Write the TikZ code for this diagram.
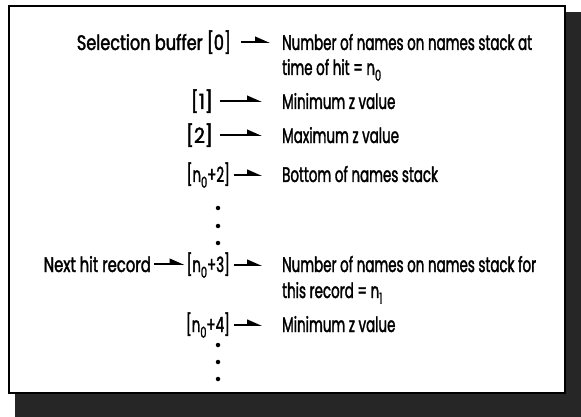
\documentclass[tikz,border=0pt]{standalone}
\usepackage{fontspec}
\setmainfont{Poppins}[FakeStretch=0.64, FakeBold=1.6]
\usetikzlibrary{arrows.meta}
\newcommand\lowidx[1]{\raisebox{-0.5ex}{\scalebox{0.72}{#1}}}
\newcommand\widelbl[2][1.2]{\scalebox{#1}[1]{#2}}

\begin{document}
\begin{tikzpicture}[x=1pt,y=-1pt,
  lbl/.style={inner sep=0pt, font=\fontsize{21}{25}\selectfont},
  ptr/.style={line width=1.6pt, -{Triangle[harpoon,length=13pt,width=11pt]},
              shorten <=4pt, shorten >=20pt},
  ptrshort/.style={ptr, shorten <=3pt, shorten >=2pt},
  vdot/.style={circle, fill, inner sep=0pt, minimum size=4.5pt}]
\useasboundingbox (0,0) rectangle (581,417);

% drop shadow and frame
\fill[black!85] (566,12) rectangle (581,417);
\fill[black!85] (15,394) rectangle (581,417);
\draw[line width=2pt, fill=white] (9,6) rectangle (565,393);

% first hit record
\node[lbl, anchor=base east] (i0) at (231,50) {\widelbl{Selection buffer [0]}};
\node[lbl, anchor=base west] (d0) at (282,50) {Number of names on names stack at};
\node[lbl, anchor=base west] (d0b) at (282,75) {time of hit = n\lowidx{0}};

\node[lbl, anchor=base east] (i1) at (213,109) {\widelbl[1.4]{[1]}};
\node[lbl, anchor=base west] (d1) at (282,109) {Minimum z value};

\node[lbl, anchor=base east] (i2) at (213,143) {\widelbl[1.4]{[2]}};
\node[lbl, anchor=base west] (d2) at (282,143) {Maximum z value};

\node[lbl, anchor=base east] (i3) at (230,182) {[n\lowidx{0}+2]};
\node[lbl, anchor=base west] (d3) at (282,182) {Bottom of names stack};

\node[vdot] (a1) at (218,208) {};
\node[vdot] (a2) at (218,226) {};
\node[vdot] (a3) at (218,243) {};

% next hit record
\node[lbl, anchor=base east] (nh) at (151,272) {\widelbl[1.1]{Next hit record}};
\node[lbl, anchor=base east] (i4) at (230,272) {[n\lowidx{0}+3]};
\node[lbl, anchor=base west] (d4) at (282,272) {Number of names on names stack for};
\node[lbl, anchor=base west] (d4b) at (282,298) {this record = n\lowidx{1}};

\node[lbl, anchor=base east] (i5) at (230,332) {[n\lowidx{0}+4]};
\node[lbl, anchor=base west] (d5) at (282,332) {Minimum z value};

\node[vdot] (b1) at (218,345) {};
\node[vdot] (b2) at (218,362) {};
\node[vdot] (b3) at (218,379) {};

% pointers
\draw[ptr, shorten <=10pt, shorten >=12pt] (i0.east) -- (i0.east -| d0.west);
\draw[ptr, shorten <=7pt] (i1.east) -- (i1.east -| d1.west);
\draw[ptr, shorten <=7pt] (i2.east) -- (i2.east -| d2.west);
\draw[ptr] (i3.east) -- (i3.east -| d3.west);
\draw[ptrshort] (nh.east) -- (nh.east -| i4.west);
\draw[ptr] (i4.east) -- (i4.east -| d4.west);
\draw[ptr] (i5.east) -- (i5.east -| d5.west);
\end{tikzpicture}
\end{document}
